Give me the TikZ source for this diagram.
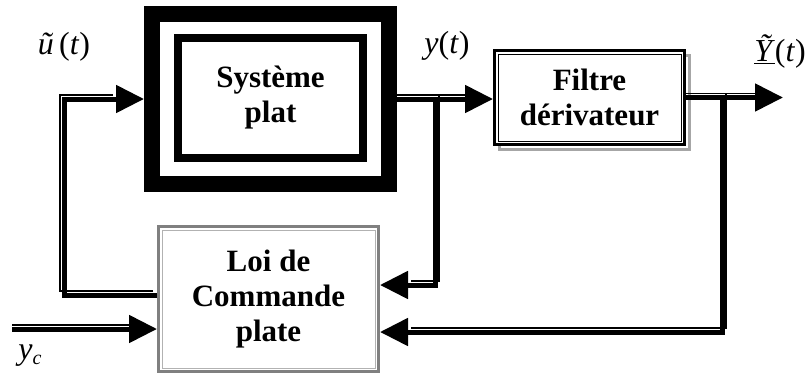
\documentclass[tikz,border=0pt]{standalone}
\usepackage{fontspec}
\setmainfont{Liberation Serif}
\usetikzlibrary{arrows.meta,calc}
\newcommand\dlinkarrow[2]{%
  \draw[thickc,tip] #2;
  \draw[thinc,transform canvas={#1},shorten >=27pt] #2;}
\begin{document}
\begin{tikzpicture}[x=1pt,y=-1pt,
  boxtext/.style={font=\bfseries\fontsize{31}{35}\selectfont, align=center},
  lab/.style={font=\fontsize{32}{34}\selectfont, inner sep=0pt},
  thickc/.style={line width=5pt},
  thinc/.style={line width=1.2pt},
  tip/.style={-{Triangle[length=28pt,width=27pt]}},
  ]
\useasboundingbox (0,0) rectangle (805,375);

% Systeme plat
\node[draw, line width=16pt, minimum width=237pt, minimum height=170pt, inner sep=0pt] (sys) at (270.5,99) {};
\node[draw, line width=8pt, minimum width=185pt, minimum height=120pt, boxtext] (sysin) at (270.5,98) {Système\\plat};

% Filtre derivateur
\draw[gray!70, line width=3pt] (499.5,55.5) rectangle (689.5,149.5);
\node[draw, fill=white, line width=3pt, minimum width=190pt, minimum height=94pt, inner sep=0pt, boxtext] (filt) at (589.5,97.5) {Filtre\\dérivateur};
\draw[line width=1pt] ([shift={(5,5)}]filt.north west) rectangle ([shift={(-5,-5)}]filt.south east);

% Loi de commande
\node[draw=black!50, line width=3pt, minimum width=220pt, minimum height=145pt, inner sep=0pt, boxtext] (loi) at (268.5,299) {Loi de\\Commande\\plate};
\draw[black!30, line width=1pt] ([shift={(5,5)}]loi.north west) rectangle ([shift={(-5,-5)}]loi.south east);

% coordinates
\coordinate (b1) at (435,99);
\coordinate (b2) at (722,98);
\coordinate (yend) at (783,100);
\coordinate (ycs) at (12,329);
\coordinate (c1) at (64,295);

% connectors
\dlinkarrow{yshift=4pt}{(sys.east) -- (sys.east -| filt.west)}
\dlinkarrow{xshift=4pt,yshift=4pt}{(b1) |- ($(loi.east)+(0,-14)$)}
\dlinkarrow{yshift=4pt}{(filt.east) -- (filt.east -| yend)}
\dlinkarrow{xshift=4pt,yshift=4pt}{(b2) |- ($(loi.east)+(0,33)$)}
\dlinkarrow{yshift=4pt}{(ycs) -- (ycs -| loi.west)}
\dlinkarrow{xshift=-4pt,yshift=4pt}{(loi.west |- c1) -- (c1) |- (sys.west)}

% labels
\node[lab] (lu) at (64,47) {\textit{ũ}\,(\textit{t})};
\node[lab] (ly) at (447,46) {\textit{y}(\textit{t})};
\node[lab] (lY) at (780,52) {\underline{\textit{Ỹ}}(\textit{t})};
\node[lab] (lyc) at (30,356) {\textit{y}\raisebox{-0.3ex}{\fontsize{20}{20}\selectfont\textit{c}}};
\end{tikzpicture}
\end{document}
